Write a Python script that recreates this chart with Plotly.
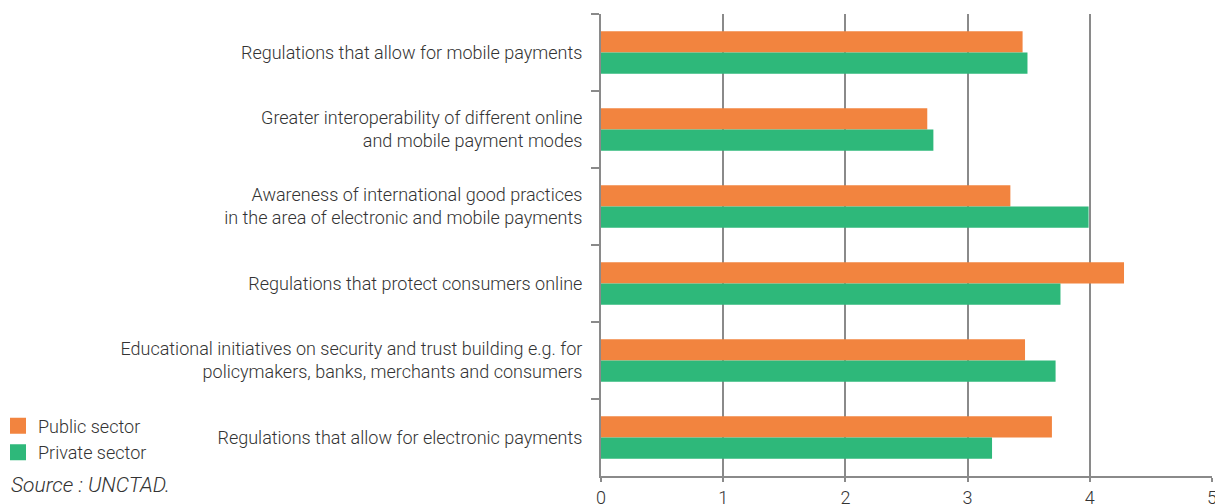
import plotly.graph_objects as go

categories = [
    "Regulations that allow for mobile payments",
    "Greater interoperability of different online<br>and mobile payment modes",
    "Awareness of international good practices<br>in the area of electronic and mobile payments",
    "Regulations that protect consumers online",
    "Educational initiatives on security and trust building e.g. for<br>policymakers, banks, merchants and consumers",
    "Regulations that allow for electronic payments",
]
public_sector = [3.45, 2.67, 3.35, 4.28, 3.47, 3.69]
private_sector = [3.49, 2.72, 3.99, 3.76, 3.72, 3.20]
x_ticks = [0, 1, 2, 3, 4, 5]
series_names = ["Public sector", "Private sector"]
series_colors = ["#F2843F", "#2EB87A"]

FONT = "Roboto, Liberation Sans, sans-serif"
TXT = dict(family=FONT, size=18, color="#333333", weight=300)

fig = go.Figure()
for name, vals, col in zip(series_names, [public_sector, private_sector], series_colors):
    fig.add_trace(go.Bar(name=name, y=categories, x=vals, orientation="h", showlegend=False,
                         marker=dict(color=col, line=dict(width=0))))
# legend entries (square swatches)
for name, col in zip(series_names, series_colors):
    fig.add_trace(go.Scatter(name=name, x=[None], y=[None], mode="markers",
                             marker=dict(symbol="square", size=16, color=col), showlegend=True))

fig.update_layout(
    width=1215, height=504,
    margin=dict(l=601, r=3, t=14, b=28, autoexpand=False),
    paper_bgcolor="white", plot_bgcolor="white",
    barmode="group", bargap=0.45, bargroupgap=0,
    font=TXT,
    showlegend=True,
    legend=dict(x=-0.9869, y=0.148, xanchor="left", yanchor="top", traceorder="normal",
                font=TXT, bgcolor="rgba(0,0,0,0)", itemwidth=30, tracegroupgap=0,
                borderwidth=0),
    xaxis=dict(range=[0, 5], tickvals=x_ticks, showgrid=True, gridcolor="#8a8a8a", gridwidth=2,
               showline=True, linecolor="#8a8a8a", linewidth=2, ticks="outside", ticklen=4,
               tickcolor="#8a8a8a", tickwidth=2, zeroline=False, automargin=False,
               ticklabeloverflow="allow", tickfont=TXT),
    yaxis=dict(autorange=False, range=[5.5, -0.5], showline=True, linecolor="#8a8a8a", linewidth=2,
               ticks="outside", tickson="boundaries", ticklen=8, tickcolor="#8a8a8a", tickwidth=2,
               showgrid=False, ticklabelstandoff=13, automargin=False,
               tickfont=TXT),
    annotations=[dict(text="<i>Source : UNCTAD.</i>", xref="paper", yref="paper",
                      x=-0.9689, y=-0.02, xanchor="left", yanchor="middle", showarrow=False,
                      font=dict(family=FONT, size=21, color="#333333", weight=300))],
)

fig.write_html("out.html", config={"displayModeBar": False},
               post_script="document.body.style.margin='0';")
